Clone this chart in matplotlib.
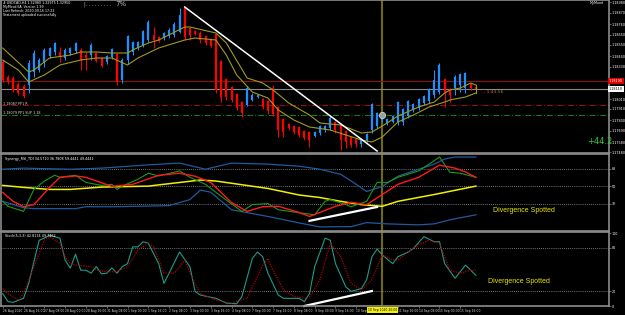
import matplotlib
matplotlib.use("Agg")
import matplotlib.pyplot as plt

# ---- H4 candles (bar 0 .. 91) ----
opens = [1.1838, 1.1823, 1.1822, 1.1816, 1.1814, 1.1815, 1.1828, 1.1830, 1.1838, 1.1844,
         1.1848, 1.1848, 1.1842, 1.1847, 1.1849, 1.1850, 1.1845, 1.1845, 1.1847, 1.1842,
         1.1838, 1.1843, 1.1846, 1.1820, 1.1840, 1.1848, 1.1852, 1.1855, 1.1860, 1.1865,
         1.1863, 1.1862, 1.1864, 1.1865, 1.1868, 1.1892, 1.1872, 1.1869, 1.1867, 1.1864,
         1.1861, 1.1866, 1.1839, 1.1821, 1.1813, 1.1806, 1.1798, 1.1795, 1.1800, 1.1803,
         1.1801, 1.1799, 1.1812, 1.1793, 1.1781, 1.1776, 1.1774, 1.1773, 1.1769, 1.1768,
         1.1764, 1.1767, 1.1770, 1.1772, 1.1778, 1.1776, 1.1769, 1.1763, 1.1761, 1.1756,
         1.1760, 1.1770, 1.1774, 1.1780, 1.1777, 1.1778, 1.1778, 1.1778, 1.1784, 1.1790,
         1.1792, 1.1797, 1.1799, 1.1805, 1.1808, 1.1821, 1.1811, 1.1812, 1.1815, 1.1812,
         1.1816, 1.1813]
closes = [1.1820, 1.1818, 1.1810, 1.1807, 1.1804, 1.1837, 1.1847, 1.1840, 1.1850, 1.1852,
          1.1857, 1.1843, 1.1850, 1.1852, 1.1857, 1.1840, 1.1842, 1.1855, 1.1839, 1.1834,
          1.1844, 1.1851, 1.1818, 1.1840, 1.1864, 1.1858, 1.1858, 1.1869, 1.1878, 1.1860,
          1.1859, 1.1867, 1.1870, 1.1876, 1.1885, 1.1863, 1.1865, 1.1866, 1.1860, 1.1857,
          1.1854, 1.1810, 1.1803, 1.1803, 1.1800, 1.1792, 1.1787, 1.1812, 1.1805, 1.1805,
          1.1793, 1.1789, 1.1786, 1.1770, 1.1768, 1.1772, 1.1768, 1.1765, 1.1762, 1.1760,
          1.1768, 1.1774, 1.1774, 1.1782, 1.1770, 1.1760, 1.1758, 1.1755, 1.1756, 1.1760,
          1.1766, 1.1796, 1.1787, 1.1783, 1.1781, 1.1784, 1.1798, 1.1791, 1.1799, 1.1796,
          1.1801, 1.1804, 1.1811, 1.1820, 1.1835, 1.1807, 1.1805, 1.1823, 1.1826, 1.1827,
          1.1812, 1.1811]
highs = [1.1840, 1.1825, 1.1824, 1.1818, 1.1816, 1.1840, 1.1850, 1.1842, 1.1852, 1.1853,
         1.1858, 1.1853, 1.1852, 1.1853, 1.1858, 1.1852, 1.1848, 1.1857, 1.1848, 1.1843,
         1.1845, 1.1852, 1.1847, 1.1842, 1.1865, 1.1859, 1.1859, 1.1870, 1.1880, 1.1873,
         1.1864, 1.1868, 1.1872, 1.1878, 1.1892, 1.1893, 1.1873, 1.1870, 1.1869, 1.1865,
         1.1862, 1.1867, 1.1840, 1.1822, 1.1814, 1.1807, 1.1799, 1.1814, 1.1807, 1.1806,
         1.1802, 1.1800, 1.1815, 1.1794, 1.1782, 1.1777, 1.1775, 1.1774, 1.1770, 1.1769,
         1.1769, 1.1775, 1.1775, 1.1784, 1.1779, 1.1777, 1.1770, 1.1764, 1.1762, 1.1762,
         1.1767, 1.1797, 1.1788, 1.1785, 1.1782, 1.1785, 1.1799, 1.1792, 1.1800, 1.1797,
         1.1802, 1.1805, 1.1812, 1.1830, 1.1837, 1.1822, 1.1812, 1.1825, 1.1827, 1.1828,
         1.1817, 1.1814]
lows = [1.1818, 1.1816, 1.1808, 1.1805, 1.1802, 1.1807, 1.1823, 1.1828, 1.1833, 1.1842,
        1.1845, 1.1838, 1.1840, 1.1845, 1.1847, 1.1830, 1.1830, 1.1840, 1.1838, 1.1833,
        1.1836, 1.1841, 1.1815, 1.1817, 1.1836, 1.1845, 1.1850, 1.1853, 1.1858, 1.1852,
        1.1858, 1.1860, 1.1862, 1.1863, 1.1867, 1.1860, 1.1860, 1.1865, 1.1857, 1.1855,
        1.1853, 1.1807, 1.1798, 1.1800, 1.1798, 1.1790, 1.1783, 1.1794, 1.1799, 1.1802,
        1.1791, 1.1786, 1.1784, 1.1763, 1.1763, 1.1770, 1.1766, 1.1763, 1.1760, 1.1753,
        1.1763, 1.1765, 1.1768, 1.1770, 1.1767, 1.1750, 1.1752, 1.1753, 1.1753, 1.1753,
        1.1758, 1.1767, 1.1772, 1.1778, 1.1775, 1.1777, 1.1775, 1.1775, 1.1782, 1.1788,
        1.1790, 1.1795, 1.1797, 1.1802, 1.1806, 1.1793, 1.1798, 1.1805, 1.1808, 1.1807,
        1.1810, 1.1810]

# ---- moving average channel (bar, price) ----
ma_hi_bars = [0, 5, 6, 9, 13, 15, 18, 21, 24, 25, 28, 30, 35, 36, 41, 43, 47, 50, 52, 55,
              59, 61, 65, 69, 71, 73, 76, 80, 83, 85, 86, 88, 90, 91]
ma_hi_vals = [1.1852, 1.1828, 1.1830, 1.1842, 1.1845, 1.1848, 1.1848, 1.1847, 1.1847, 1.1850,
              1.1857, 1.1860, 1.1873, 1.1873, 1.1867, 1.1857, 1.1822, 1.1817, 1.1810, 1.1797,
              1.1785, 1.1777, 1.1775, 1.1767, 1.1768, 1.1774, 1.1784, 1.1793, 1.1798, 1.1807,
              1.1810, 1.1812, 1.1817, 1.1815]
ma_lo_bars = [0, 3, 5, 8, 11, 15, 18, 21, 24, 26, 28, 30, 35, 37, 41, 43, 45, 48, 51, 53,
              56, 59, 63, 69, 71, 73, 76, 79, 82, 85, 86, 89, 91]
ma_lo_vals = [1.1840, 1.1830, 1.1818, 1.1825, 1.1835, 1.1840, 1.1842, 1.1842, 1.1835, 1.1842,
              1.1847, 1.1852, 1.1860, 1.1862, 1.1860, 1.1845, 1.1825, 1.1808, 1.1802, 1.1790,
              1.1780, 1.1773, 1.1770, 1.1760, 1.1758, 1.1763, 1.1778, 1.1785, 1.1793, 1.1798,
              1.1800, 1.1803, 1.1807]

# levels and drawings on the price chart
ask_level = 1.1819
bid_level = 1.1811
pivot_r_level = 1.1795
pivot_s_level = 1.17855
trend_bars = [35, 72]
trend_prices = [1.1893, 1.1749]
marker_bar = 73
marker_price = 1.1785
cursor_bar = 73
price_ticks = [1.1898, 1.1887, 1.1876, 1.1865, 1.1855, 1.1844, 1.1833,
               1.1801, 1.1791, 1.1780, 1.1769, 1.1758, 1.1748]

# ---- TDI panel (bar, value) ----
tdi_up_bars = [0, 4, 13, 19, 28, 34, 39, 44, 51, 57, 61, 65, 68, 70, 73, 76, 80, 83, 85, 87, 91]
tdi_up_vals = [67.3, 68.4, 67.3, 68.4, 71.8, 73.6, 67.3, 73.6, 72.5, 70.4, 67.3, 62.1, 51.8,
               44.5, 49.7, 60.1, 67.3, 72.5, 77.7, 79.8, 79.8]
tdi_dn_bars = [0, 4, 6, 14, 16, 22, 32, 36, 38, 40, 44, 51, 57, 61, 67, 70, 74, 80, 83, 86, 91]
tdi_dn_vals = [34.4, 27.9, 26.9, 26.9, 28.9, 28.9, 30.0, 36.2, 45.9, 43.8, 25.8, 18.9, 12.3,
               8.2, 8.5, 12.6, 11.3, 10.3, 11.3, 15.5, 20.6]
tdi_mid_bars = [0, 4, 9, 13, 19, 28, 38, 41, 51, 57, 61, 65, 69, 73, 76, 83, 91]
tdi_mid_vals = [50.7, 48.7, 46.6, 46.6, 49.0, 50.0, 56.2, 55.2, 47.6, 40.9, 38.3, 34.4, 31.0,
                29.3, 34.4, 41.4, 50.0]
rsi_bars = [0, 1, 4, 6, 8, 10, 11, 14, 16, 19, 21, 22, 23, 26, 28, 30, 34, 36, 39, 42, 46, 48,
            51, 53, 57, 60, 62, 63, 66, 67, 70, 72, 74, 76, 80, 82, 84, 86, 88, 91]
rsi_vals = [34.4, 29.3, 24.1, 46.6, 55.2, 61.1, 59.0, 61.1, 53.8, 50.7, 51.8, 46.6, 50.0, 57.0,
            63.2, 60.4, 65.6, 59.0, 51.8, 39.6, 24.1, 31.0, 32.1, 25.8, 22.7, 20.6, 34.4, 36.2,
            31.0, 28.9, 34.4, 53.8, 53.8, 59.0, 65.6, 72.5, 79.8, 64.2, 63.2, 59.0]
sig_bars = [0, 2, 4, 6, 9, 11, 14, 16, 21, 25, 30, 34, 37, 40, 44, 47, 50, 53, 57, 59, 64, 67,
            70, 73, 76, 80, 84, 87, 89, 91]
sig_vals = [43.5, 34.4, 28.9, 31.0, 48.7, 59.0, 60.4, 59.0, 49.7, 51.8, 61.1, 63.2, 60.1, 53.8,
            33.1, 24.1, 28.9, 29.3, 23.0, 18.9, 29.3, 33.4, 31.0, 41.4, 51.8, 59.0, 71.5, 68.4,
            64.5, 59.0]
tdi_levels = [68, 50, 32]
tdi_div_bars = [59, 72]
tdi_div_vals = [14.4, 28.6]

# ---- Stochastic panel (bar, value) ----
st_main_bars = [0, 1, 2, 4, 5, 7, 8, 9, 11, 12, 13, 14, 15, 16, 17, 18, 19, 20, 21, 22, 23, 24,
                25, 26, 27, 28, 30, 31, 32, 34, 36, 37, 38, 41, 43, 45, 46, 48, 49, 50, 51, 53,
                54, 57, 58, 59, 60, 62, 63, 64, 66, 67, 69, 70, 71, 72, 73, 75, 76, 78, 79, 81,
                83, 84, 85, 87, 89, 91]
st_main_vals = [17, 6, 5, 10.5, 31, 90, 93, 97, 93, 63, 52, 71, 49, 49, 45, 54, 44, 45, 52, 45,
                54, 58, 81, 81, 88, 86, 58, 31, 45, 74, 54, 20, 15, 10.5, 4, 3, 13, 65, 74, 67.5,
                45, 15, 10.5, 10.5, 6, 17, 54, 93, 90, 58, 26, 20, 24, 36, 67.5, 78, 70, 58,
                67.5, 74, 79, 95, 88, 88, 58, 38, 56, 42]
st_sig_bars = [0, 1, 3, 4, 6, 8, 9, 11, 12, 13, 14, 17, 18, 20, 22, 24, 26, 28, 29, 31, 33, 35,
               36, 38, 41, 44, 47, 50, 51, 52, 54, 56, 58, 59, 61, 63, 65, 67, 69, 71, 73, 75,
               76, 78, 80, 82, 84, 86, 88, 90, 91]
st_sig_vals = [24, 17, 8, 17, 54, 90, 95, 86, 67.5, 58, 56, 54, 49, 47, 47, 54, 77, 86, 81, 45,
               45, 63, 45, 17, 8, 4, 10.5, 56, 65, 49, 22, 13, 10.5, 12, 36, 86, 67.5, 31, 22,
               36, 70, 63, 63, 74, 84, 90, 86, 49, 45, 49, 49]
st_levels = [80, 20]
st_div_bars = [58, 71]
st_div_vals = [0, 20.5]

# time axis (the label under the cursor is covered by the cursor's own label)
time_tick_bars = [0, 4, 8, 12, 16, 20, 24, 28, 32, 36, 40, 44, 48, 52, 56, 60, 64, 68,
                  76, 80, 84, 88]
time_tick_labels = ["26 Aug 2020", "26 Aug 16:00", "27 Aug 08:00", "28 Aug 00:00",
                    "28 Aug 16:00", "31 Aug 08:00", "1 Sep 00:00", "1 Sep 16:00",
                    "2 Sep 08:00", "3 Sep 00:00", "3 Sep 16:00", "4 Sep 08:00",
                    "7 Sep 00:00", "7 Sep 16:00", "8 Sep 08:00", "9 Sep 00:00",
                    "9 Sep 16:00", "10 Sep 08:00",
                    "11 Sep 16:00", "14 Sep 08:00", "15 Sep 00:00", "15 Sep 16:00"]
cursor_label = "10 Sep 2020 20:00"

W, H = 625, 315
BULL, BEAR = "#1e8fff", "#ff0000"
GREY = "#8c8c8c"

fig = plt.figure(figsize=(W / 100, H / 100), dpi=100, facecolor="black")


def panel(top, bottom):
    ax = fig.add_axes([1 / W, 1 - bottom / H, 608 / W, (bottom - top) / H])
    ax.set_facecolor("black")
    for s in ax.spines.values():
        s.set_color(GREY)
        s.set_linewidth(1.2)
    ax.set_xlim(-0.33, 116.6)
    ax.tick_params(axis="x", bottom=False, labelbottom=False)
    ax.yaxis.tick_right()
    ax.tick_params(axis="y", colors=GREY, labelcolor="white", labelsize=2.4,
                   length=1.5, width=0.5, pad=0.6)
    return ax


ax1 = panel(0, 153)
ax2 = panel(154, 231)
ax3 = panel(232, 306)

# ---- price panel ----
ax1.set_ylim(1.1747, 1.1900)
ax1.set_yticks(price_ticks)
ax1.set_yticklabels([f"{p:.5f}" for p in price_ticks])

ax1.axhline(ask_level, color="#8b1010", lw=0.8)
ax1.axhline(bid_level, color="#8a8a8a", lw=0.8)
ax1.axhline(pivot_r_level, color="#a01010", lw=0.7, ls=(0, (6, 2, 1, 2)))
ax1.axhline(pivot_s_level, color="#0c8a0c", lw=0.7, ls=(0, (6, 2, 1, 2)))

bars = range(len(opens))
cols = [BULL if c >= o else BEAR for o, c in zip(opens, closes)]
ax1.vlines(bars, lows, highs, colors=cols, lw=0.75)
ax1.vlines(bars, [min(o, c) for o, c in zip(opens, closes)],
           [max(o, c) for o, c in zip(opens, closes)], colors=cols, lw=1.6)

ax1.plot(ma_hi_bars, ma_hi_vals, color="#a09a20", lw=0.8)
ax1.plot(ma_lo_bars, ma_lo_vals, color="#a09a20", lw=0.8)
ax1.plot([ma_hi_bars[-1], ma_lo_bars[-1]], [ma_hi_vals[-1], ma_lo_vals[-1]],
         color="#a09a20", lw=0.8)

ax1.plot(trend_bars, trend_prices, color="white", lw=1.1)
ax1.plot(marker_bar, marker_price, "o", ms=4.5, mfc="#9aa39a", mec="#d0d0d0", mew=0.6)

for ax in (ax1, ax2, ax3):
    ax.axvline(cursor_bar, color="#6e6a10", lw=1.5, zorder=0.5)

ax1.text(1.0, ask_level, f"{ask_level:.5f}", transform=ax1.get_yaxis_transform(),
         fontsize=2.4, color="white", va="center", ha="left", clip_on=False,
         bbox=dict(boxstyle="square,pad=0.3", fc="#e00000", ec="none"))
ax1.text(1.0, bid_level, f"{bid_level:.5f}", transform=ax1.get_yaxis_transform(),
         fontsize=2.4, color="black", va="center", ha="left", clip_on=False,
         bbox=dict(boxstyle="square,pad=0.3", fc="white", ec="none"))

info = ["# USDCAD,H4 1.32980 1.32975 1.32950",
        "MyMood EA  Version 1.99",
        "Last Refresh: 2020.09.16 17:23",
        "Statement uploaded successfully"]
for k, line in enumerate(info):
    fig.text(3 / W, 1 - (3 + 3.9 * k) / H, line, fontsize=2.3, color="white",
             va="center", ha="left")
fig.text(84 / W, 1 - 4 / H, "|. . . . . . . . .", fontsize=3.5, color="#bbbbbb",
         va="center", ha="left")
fig.text(115 / W, 1 - 4 / H, "7%", fontsize=5, color="#bbbbbb", va="center", ha="left")
fig.text(590 / W, 1 - 3 / H, "MyMood", fontsize=2.4, color="white", va="center", ha="left")
fig.text(3 / W, 1 - 104 / H, "1.18087 PP1 R", fontsize=2.4, color="#dddddd", va="center")
fig.text(3 / W, 1 - 113 / H, "1.18079 PP1 SUP 1.18", fontsize=2.4, color="#dddddd",
         va="center")
fig.text(482 / W, 1 - 92 / H, "-- 1:43:56", fontsize=3.2, color="#c8702a", va="center")
fig.text(587 / W, 1 - 141 / H, "+44.2", fontsize=6, color="#2ecc2e", va="center")

# ---- TDI panel ----
ax2.set_ylim(4.0, 82.9)
ax2.set_yticks(tdi_levels)
ax2.set_yticklabels([str(v) for v in tdi_levels])
for v in tdi_levels:
    ax2.axhline(v, color="#9a9a9a", lw=0.6, ls=(0, (1, 1.5)))
ax2.plot(tdi_up_bars, tdi_up_vals, color="#1f5a9c", lw=0.9)
ax2.plot(tdi_dn_bars, tdi_dn_vals, color="#1f5a9c", lw=0.9)
ax2.plot(tdi_mid_bars, tdi_mid_vals, color="#f0f000", lw=1.1)
ax2.plot(rsi_bars, rsi_vals, color="#1a9a1a", lw=0.8)
ax2.plot(sig_bars, sig_vals, color="#ff1a1a", lw=1.0)
ax2.plot(tdi_div_bars, tdi_div_vals, color="white", lw=1.6)
ax2.text(0.006, 0.96, "Synergy_RSI_TDI 34.5710 36.7808 59.4441 49.4441",
         transform=ax2.transAxes, fontsize=2.4, color="white", va="top")
ax2.text(94.2, 24.8, "Divergence Spotted", fontsize=5.0, color="#e8e800",
         family="Liberation Sans", va="center")

# ---- Stochastic panel ----
ax3.set_ylim(0, 101.4)
ax3.set_yticks([100, 80, 20, 0])
ax3.set_yticklabels(["100", "80", "20", "0"])
for v in st_levels:
    ax3.axhline(v, color="#9a9a9a", lw=0.6, ls=(0, (1, 1.5)))
ax3.plot(st_main_bars, st_main_vals, color="#1c9c8c", lw=0.8)
ax3.plot(st_sig_bars, st_sig_vals, color="#b00000", lw=0.9, ls=(0, (1, 1)))
ax3.plot(st_div_bars, st_div_vals, color="white", lw=1.6, clip_on=False)
ax3.text(0.006, 0.97, "Stoch(5,3,3) 42.8134 49.7462", transform=ax3.transAxes,
         fontsize=2.4, color="white", va="top")
ax3.text(93.3, 34.2, "Divergence Spotted", fontsize=5.0, color="#e8e800",
         family="Liberation Sans", va="center")

ax3.set_xticks(time_tick_bars)
ax3.set_xticklabels(time_tick_labels)
ax3.tick_params(axis="x", bottom=True, labelbottom=True, labelsize=2.2, colors=GREY,
                labelcolor="#d8d8d8", length=1.5, width=0.5, pad=1)
for lab in ax3.get_xticklabels():
    lab.set_ha("left")
ax3.text(cursor_bar, -0.03, cursor_label, transform=ax3.get_xaxis_transform(),
         fontsize=2.2, color="black", ha="center", va="top", clip_on=False,
         bbox=dict(boxstyle="square,pad=0.3", fc="#f0f000", ec="none"))

fig.savefig("out.png", dpi=100, facecolor="black")
